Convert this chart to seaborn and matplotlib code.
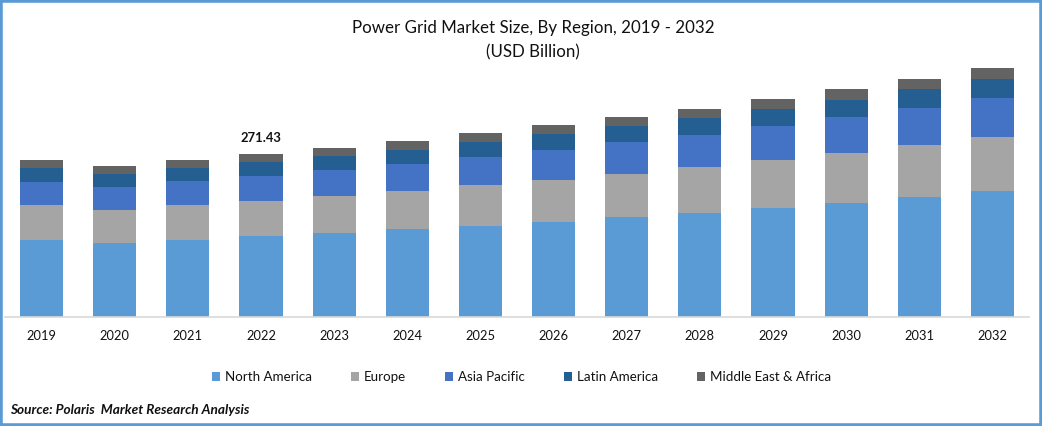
import matplotlib
matplotlib.use("Agg")
import matplotlib.pyplot as plt
import numpy as np
import pandas as pd
import seaborn as sns
from matplotlib.patches import Rectangle

sns.set_theme(style="white")
plt.rcParams["font.family"] = ["Lato", "DejaVu Sans"]

years = [2019, 2020, 2021, 2022, 2023, 2024, 2025, 2026, 2027, 2028, 2029, 2030, 2031, 2032]
north_america = [128.2, 123.2, 128.2, 134.9, 139.9, 146.5, 151.5, 158.2, 166.5, 173.2, 181.5, 189.8, 199.8, 209.8]
europe = [58.3, 54.9, 58.3, 58.3, 61.6, 63.3, 68.3, 69.9, 71.6, 76.6, 79.9, 83.3, 86.6, 89.9]
asia_pacific = [38.3, 38.3, 40.0, 41.6, 43.3, 45.0, 46.6, 50.0, 53.3, 53.3, 56.6, 59.9, 61.6, 64.9]
latin_america = [23.3, 21.6, 21.6, 23.3, 23.3, 23.3, 25.0, 26.6, 26.6, 28.3, 28.3, 28.3, 31.6, 31.6]
middle_east = [13.3, 13.3, 13.3, 13.3, 13.3, 15.0, 15.0, 15.0, 15.0, 15.0, 16.7, 18.3, 16.7, 18.3]

series = [
    ("North America", north_america, "#5B9BD5"),
    ("Europe", europe, "#A5A5A5"),
    ("Asia Pacific", asia_pacific, "#4472C4"),
    ("Latin America", latin_america, "#255E91"),
    ("Middle East & Africa", middle_east, "#636363"),
]

W, H = 1042, 426
fig = plt.figure(figsize=(W / 100, H / 100), dpi=100, facecolor="white")
ax = fig.add_axes([5 / W, 1 - 317 / H, (1029 - 5) / W, 267 / H])

# stack the regions one on top of the other
bottom = np.zeros(len(years))
for name, values, color in series:
    df = pd.DataFrame({"year": years, "value": values})
    sns.barplot(data=df, x="year", y="value", color=color, width=0.59, saturation=1,
                bottom=bottom, label=name, ax=ax, linewidth=0)
    bottom = bottom + np.array(values)

ax.set_xlim(-0.5, len(years) - 0.5)
ax.set_ylim(0, 444.6)
ax.set_xlabel("")
ax.set_ylabel("")
ax.set_yticks([])
ax.tick_params(axis="x", length=0, pad=9, labelsize=9.3, labelcolor="#111111")
for side in ["top", "left", "right"]:
    ax.spines[side].set_visible(False)
ax.spines["bottom"].set_color("#D9D9D9")
ax.spines["bottom"].set_linewidth(1.2)

# data label on 2022 only
ax.text(3, bottom[3] + 27, "271.43", ha="center", va="center", fontsize=9.4,
        fontweight="bold", color="#111111")

fig.text(533 / W, 1 - 28 / H, "Power Grid Market Size, By Region, 2019 - 2032",
         ha="center", va="center", fontsize=12.15, color="#111111")
fig.text(533 / W, 1 - 52 / H, "(USD Billion)", ha="center", va="center", fontsize=12.15, color="#111111")

handles, labels = ax.get_legend_handles_labels()
ax.get_legend().remove()
fig.legend(handles, labels, loc="center", bbox_to_anchor=(521.5 / W, 1 - 377 / H),
           ncol=5, frameon=False, fontsize=9.6, handlelength=0.6, handleheight=0.6,
           handletextpad=0.35, columnspacing=2.95, labelcolor="#111111")

fig.text(10 / W, 1 - 410 / H, "Source: Polaris  Market Research Analysis", ha="left", va="center",
         fontsize=9.8, fontweight="bold", style="italic", color="#111111")

# blue frame around the picture
fig.add_artist(Rectangle((0, 0), 1, 1, transform=fig.transFigure, fill=False,
                         edgecolor="#5B9BD5", linewidth=4))

fig.savefig("out.png", dpi=100)
